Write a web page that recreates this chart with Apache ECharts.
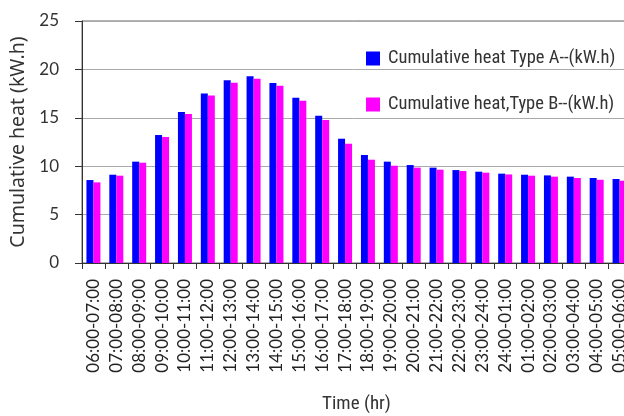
<!DOCTYPE html>
<html><head><meta charset="utf-8">
<script src="https://cdn.jsdelivr.net/npm/echarts@6/dist/echarts.min.js"></script>
<style>html,body{margin:0;padding:0;background:#fff}#c{width:624px;height:416px}</style>
</head><body><div id="c"></div>
<script>
const categories = ["06:00-07:00","07:00-08:00","08:00-09:00","09:00-10:00","10:00-11:00","11:00-12:00","12:00-13:00","13:00-14:00","14:00-15:00","15:00-16:00","16:00-17:00","17:00-18:00","18:00-19:00","19:00-20:00","20:00-21:00","21:00-22:00","22:00-23:00","23:00-24:00","24:00-01:00","01:00-02:00","02:00-03:00","03:00-04:00","04:00-05:00","05:00-06:00"];
const typeA = [8.57,9.12,10.47,13.22,15.6,17.52,18.87,19.28,18.6,17.08,15.22,12.84,11.16,10.47,10.12,9.85,9.6,9.43,9.23,9.12,9.05,8.92,8.78,8.68];
const typeB = [8.33,9.02,10.36,13.02,15.39,17.31,18.63,19.04,18.32,16.77,14.77,12.32,10.67,10.05,9.85,9.64,9.5,9.33,9.15,9.02,8.92,8.78,8.6,8.5];
const yTicks = [0,5,10,15,20,25];
const nameA = "Cumulative heat Type A--(kW.h)";
const nameB = "Cumulative heat,Type B--(kW.h)";
const FONT = "Lato";
const NARROW = "'Roboto Condensed'";
const chart = echarts.init(document.getElementById('c'), null, {renderer:'canvas'});
chart.setOption({
  animation:false,
  backgroundColor:'#fff',
  textStyle:{fontFamily:FONT},
  grid:{left:82, top:21, bottom:153, right:-7, show:true, borderColor:'#666', borderWidth:1, containLabel:false, outerBoundsMode:'none'},
  legend:{
    orient:'vertical', left:366, top:49, itemWidth:14, itemHeight:14, itemGap:27,
    icon:'rect', padding:0,
    textStyle:{fontFamily:NARROW, fontWeight:'normal', fontSize:18.5, color:'#333', padding:[0,0,0,3]},
    data:[nameA,nameB]
  },
  xAxis:{
    type:'category', data:categories,
    name:'Time (hr)', nameLocation:'middle', nameGap:132,
    nameTextStyle:{fontFamily:NARROW, fontWeight:'normal', fontSize:19, color:'#333', align:'center'},
    axisLine:{lineStyle:{color:'#333', width:1}},
    axisTick:{show:true, length:6, alignWithLabel:false, lineStyle:{color:'#333'}},
    axisLabel:{rotate:90, interval:0, margin:16, fontFamily:FONT, fontSize:17, color:'#222'}
  },
  yAxis:{
    type:'value', min:yTicks[0], max:yTicks[yTicks.length-1], interval:5,
    name:'Cumulative heat (kW.h)', nameLocation:'middle', nameGap:51,
    nameTextStyle:{fontFamily:'Noto Sans', fontSize:19.5, color:'#333'},
    axisLine:{show:true, lineStyle:{color:'#333'}},
    axisTick:{show:true, length:7, lineStyle:{color:'#333'}},
    axisLabel:{margin:23, fontFamily:FONT, fontSize:17, color:'#333'},
    splitLine:{show:true, lineStyle:{color:'#aaa', width:1}}
  },
  series:[
    {name:nameA, type:'bar', data:typeA, barWidth:7, barGap:'0%', itemStyle:{color:'#0000ff'}},
    {name:nameB, type:'bar', data:typeB, barWidth:7, barGap:'0%', itemStyle:{color:'#ff00ff'}}
  ]
});
</script></body></html>
